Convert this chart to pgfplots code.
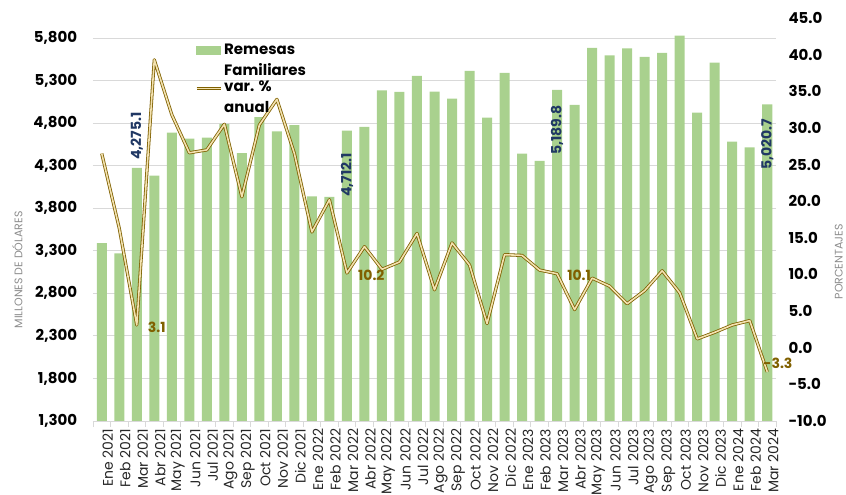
\documentclass[border=0pt]{standalone}
\usepackage{fontspec}
\setmainfont{Poppins}
\usepackage{pgfplots}
\usepackage{pgfplotstable}
\pgfplotsset{compat=1.18}

\definecolor{barg}{HTML}{A9D18E}
\definecolor{lineo}{HTML}{7F6000}
\definecolor{linei}{HTML}{F3E2B0}
\definecolor{lblgold}{HTML}{806000}
\definecolor{lblblue}{HTML}{203864}
\definecolor{gridc}{HTML}{D9D9D9}
\definecolor{axlab}{HTML}{8C8C8C}

% idx, remesas (millones US$), var. % anual
\pgfplotstableread{
idx rem var
0 3390 26.5
1 3270 16.3
2 4275.1 3.1
3 4183 39.3
4 4688 31.8
5 4617 26.6
6 4629 27.0
7 4790 30.5
8 4446 20.6
9 4869 30.4
10 4704 33.9
11 4775 26.5
12 3940 15.8
13 3932 20.2
14 4712.1 10.2
15 4755 13.8
16 5186 10.7
17 5166 11.7
18 5354 15.6
19 5170 7.9
20 5088 14.3
21 5413 11.3
22 4864 3.3
23 5389 12.7
24 4441 12.6
25 4355 10.6
26 5189.8 10.1
27 5013 5.2
28 5683 9.5
29 5597 8.4
30 5679 6.0
31 5577 7.8
32 5624 10.5
33 5828 7.5
34 4922 1.2
35 5510 2.1
36 4582 3.1
37 4516 3.7
38 5020.7 -3.3
}\data

\tikzset{dline/.style={draw=lineo, line width=0.8pt, double=linei, double distance=1.6pt, line join=round}}

\begin{document}
\begin{tikzpicture}
\path[use as bounding box] (-93pt,-74pt) rectangle (753pt,421pt);

\pgfplotsset{
  base/.style={
    scale only axis, width=683pt, height=403pt,
    xmin=-0.5, xmax=38.5,
    /pgf/number format/assume math mode=true,
    yticklabel style={font=\fontsize{15}{18}\selectfont\bfseries},
    ytick style={draw=none},
  }
}

\begin{axis}[
  base,
  ymin=1300, ymax=6035,
  ytick={1300,1800,...,5800},
  /pgf/number format/.cd, fixed, 1000 sep={,}, /pgfplots/.cd,
  yticklabel style={xshift=-8pt},
  ymajorgrids, grid style={gridc, line width=0.8pt},
  axis lines*=left,
  y axis line style={draw=none},
  x axis line style={gridc, line width=0.8pt},
  xtick={0,...,38},
  xticklabels={Ene 2021,Feb 2021,Mar 2021,Abr 2021,May 2021,Jun 2021,Jul 2021,Ago 2021,Sep 2021,Oct 2021,Nov 2021,Dic 2021,
    Ene 2022,Feb 2022,Mar 2022,Abr 2022,May 2022,Jun 2022,Jul 2022,Ago 2022,Sep 2022,Oct 2022,Nov 2022,Dic 2022,
    Ene 2023,Feb 2023,Mar 2023,Abr 2023,May 2023,Jun 2023,Jul 2023,Ago 2023,Sep 2023,Oct 2023,Nov 2023,Dic 2023,
    Ene 2024,Feb 2024,Mar 2024},
  xticklabel style={rotate=90, anchor=east, yshift=-6pt, font=\fontsize{14}{16}\selectfont, text=black!85},
  major x tick style={draw=none},
  minor xtick={-0.5,0.5,...,38.5},
  minor x tick style={gridc, line width=0.8pt},
  minor tick length=6pt,
  tick align=outside,
  ylabel={MILLONES DE DÓLARES},
  ylabel style={at={(axis description cs:-0.111,0.375)}, anchor=center, rotate=0,
    font=\fontsize{11}{13}\selectfont, text=axlab},
  clip mode=individual,
]
\addplot[ybar, bar width=10pt, fill=barg, draw=none] table[x=idx, y=rem] {\data};

\begin{scope}[every node/.style={rotate=90, anchor=west, inner sep=0pt, text=lblblue,
    font=\fontsize{14}{16}\selectfont\bfseries}]
\node at (axis cs:2,4367) {4,275.1};
\node at (axis cs:14,3932) {4,712.1};
\node at (axis cs:26,4426) {5,189.8};
\node at (axis cs:38,4249) {5,020.7};
\end{scope}
\end{axis}

\begin{axis}[
  base,
  ymin=-10, ymax=45,
  ytick={-10,-5,...,45},
  /pgf/number format/.cd, fixed, fixed zerofill, precision=1, /pgfplots/.cd,
  yticklabel style={xshift=9pt},
  axis y line*=right, axis x line=none,
  y axis line style={draw=none},
  ylabel={PORCENTAJES},
  ylabel style={at={(axis description cs:1.092,0.395)}, anchor=center, rotate=0,
    font=\fontsize{11}{13}\selectfont, text=axlab},
  legend style={at={(axis description cs:0.149,0.941)}, anchor=north west,
    draw=none, fill=none, inner sep=0pt, row sep=0pt,
    font=\fontsize{15}{21}\selectfont\bfseries,
    cells={align=left}},
  legend cell align=left,
  clip mode=individual,
]
\addlegendimage{legend image code/.code={\fill[barg] (0pt,6pt) rectangle (24pt,14pt);}}
\addlegendentry{Remesas\\Familiares}
\addplot[dline, mark=none,
  legend image code/.code={\draw[dline] (0pt,9pt) -- (24pt,9pt);}]
  table[x=idx, y=var] {\data};
\addlegendentry{var. \%\\anual}

\begin{scope}[every node/.style={anchor=west, inner sep=0pt, text=lblgold,
    font=\fontsize{14}{16}\selectfont\bfseries}]
\node[xshift=11pt, yshift=-2pt] at (axis cs:2,3.1) {3.1};
\node[xshift=11pt, yshift=-2pt] at (axis cs:14,10.2) {10.2};
\node[xshift=10pt, yshift=-2pt] at (axis cs:26,10.1) {10.1};
\node[xshift=-4pt, yshift=9pt] at (axis cs:38,-3.3) {-3.3};
\end{scope}
\end{axis}
\end{tikzpicture}
\end{document}
